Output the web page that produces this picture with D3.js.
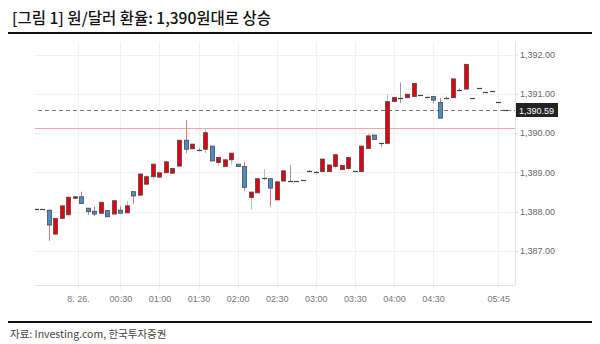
<!DOCTYPE html>
<html>
<head>
<meta charset="utf-8">
<script src="https://cdn.jsdelivr.net/npm/d3@7"></script>
<style>
  body { margin: 0; background: #fff; }
  svg { display: block; }
  .ylab text { font: 9px "Liberation Sans", Arial, sans-serif; fill: #666; }
  .xlab text { font: 9px "Liberation Sans", Arial, sans-serif; fill: #777; }
</style>
</head>
<body>
<svg width="600" height="344"></svg>
<script>
// 5-minute candles
const opens  = [1388.07,1388.06,1388.04,1387.43,1387.83,1387.92,1388.34,1388.38,1388.09,1388.01,
                1387.96,1388.03,1387.94,1388.04,1387.97,1388.51,1388.42,1388.70,1388.89,1388.88,
                1388.99,1388.98,1389.16,1389.82,1389.60,1389.58,1389.59,1389.67,1389.25,1389.15,
                1389.32,1389.21,1389.15,1388.36,1388.48,1388.83,1388.84,1388.30,1388.78,1388.78,
                1388.79,1388.81,1389.04,1389.01,1389.02,1389.02,1389.15,1389.07,1389.10,1389.04,
                1389.02,1389.61,1389.95,1389.74,1389.74,1390.80,1390.89,1390.90,1390.93,1390.96,
                1390.95,1390.93,1390.78,1390.89,1390.90,1391.10,1391.12,1390.90,1391.14,1391.04,
                1391.07,1390.78,1390.59];
const closes = [1388.07,1388.06,1387.66,1387.83,1388.15,1388.37,1388.38,1388.21,1388.00,1387.94,
                1388.24,1387.87,1388.28,1387.96,1388.15,1388.40,1388.96,1388.89,1389.21,1388.99,
                1389.27,1389.10,1389.82,1389.59,1389.72,1389.58,1390.01,1389.29,1389.38,1389.32,
                1389.49,1389.15,1388.62,1388.50,1388.84,1388.85,1388.60,1388.76,1389.04,1388.78,
                1388.79,1388.81,1389.04,1389.01,1389.34,1389.19,1389.45,1389.18,1389.38,1389.04,
                1389.67,1389.93,1389.84,1389.74,1390.80,1390.91,1390.89,1390.99,1391.26,1390.96,
                1390.93,1390.84,1390.38,1390.89,1391.38,1391.10,1391.75,1390.90,1391.14,1391.04,
                1391.07,1390.78,1390.59];
const highs  = [1388.08,1388.07,1388.04,1387.83,1388.15,1388.37,1388.38,1388.51,1388.09,1388.13,
                1388.24,1388.03,1388.28,1388.14,1388.28,1388.51,1388.96,1388.93,1389.21,1389.02,
                1389.27,1389.10,1389.82,1390.33,1389.72,1389.62,1390.12,1389.67,1389.38,1389.35,
                1389.49,1389.21,1389.27,1388.50,1388.84,1389.08,1388.84,1388.76,1389.04,1389.19,
                1388.79,1388.81,1389.06,1389.03,1389.34,1389.19,1389.45,1389.18,1389.38,1389.04,
                1389.67,1390.00,1389.95,1389.74,1390.99,1390.91,1391.29,1390.99,1391.26,1390.96,
                1390.95,1390.93,1390.89,1390.93,1391.38,1391.14,1391.75,1390.90,1391.14,1391.04,
                1391.07,1390.78,1390.59];
const lows   = [1388.06,1388.05,1387.26,1387.43,1387.83,1387.92,1388.34,1388.21,1387.92,1387.89,
                1387.96,1387.87,1387.94,1387.96,1387.97,1388.20,1388.42,1388.70,1388.82,1388.88,
                1388.99,1388.98,1389.16,1389.49,1389.60,1389.54,1389.49,1389.29,1389.17,1389.15,
                1389.20,1389.15,1388.53,1388.06,1388.48,1388.80,1388.13,1388.30,1388.78,1388.78,
                1388.79,1388.81,1389.02,1388.99,1389.02,1389.02,1389.10,1389.07,1389.05,1389.04,
                1389.02,1389.61,1389.84,1389.65,1389.74,1390.80,1390.76,1390.90,1390.93,1390.96,
                1390.93,1390.76,1390.38,1390.86,1390.90,1391.06,1391.12,1390.90,1391.14,1391.04,
                1391.07,1390.78,1390.59];

const yTicks = [1387, 1388, 1389, 1390, 1391, 1392];
// tick positions are candle indices (chart skips the quiet hours before 05:45)
const xTickPos    = [6.5, 13, 19, 25, 31, 37, 43, 49, 55, 61, 71];
const xTickLabels = ["8. 26.", "00:30", "01:00", "01:30", "02:00", "02:30", "03:00", "03:30", "04:00", "04:30", "05:45"];

const lastPrice = 1390.59;
const refLine = 1390.13;

const title = "[그림 1] 원/달러 환율: 1,390원대로 상승";
const source = "자료: Investing.com, 한국투자증권";

const candles = opens.map((o, i) => ({i, o, c: closes[i], h: highs[i], l: lows[i]}));

const plot = {left: 35, right: 515, top: 42, bottom: 285};

const x = d3.scaleLinear().domain([0, candles.length - 1]).range([35.7, 504.7]);
const y = d3.scaleLinear().domain([1387, 1392]).range([251, 54.5]);

const svg = d3.select("svg");

// title + rules
svg.append("text")
   .attr("x", 12).attr("y", 24)
   .style("font", "500 15.5px 'Noto Sans CJK KR', sans-serif")
   .attr("fill", "#111")
   .text(title);

svg.append("line").attr("x1", 8).attr("x2", 592).attr("y1", 33).attr("y2", 33)
   .attr("stroke", "#111").attr("stroke-width", 2);
svg.append("line").attr("x1", 8).attr("x2", 592).attr("y1", 322).attr("y2", 322)
   .attr("stroke", "#111").attr("stroke-width", 2);

svg.append("text")
   .attr("x", 10).attr("y", 338)
   .style("font", "10.5px 'Noto Sans CJK KR', sans-serif")
   .attr("fill", "#444")
   .text(source);

// grid
svg.append("g")
   .selectAll("line")
   .data(yTicks)
   .join("line")
     .attr("x1", plot.left).attr("x2", plot.right)
     .attr("y1", d => Math.round(y(d)) + 0.5).attr("y2", d => Math.round(y(d)) + 0.5)
     .attr("stroke", "#f1f1f1");

svg.append("g")
   .selectAll("line")
   .data(xTickPos)
   .join("line")
     .attr("x1", d => Math.round(x(d)) + 0.5).attr("x2", d => Math.round(x(d)) + 0.5)
     .attr("y1", plot.top).attr("y2", plot.bottom + 5)
     .attr("stroke", "#f1f1f1");

// frame: bottom + right
svg.append("line").attr("x1", plot.left).attr("x2", plot.right)
   .attr("y1", plot.bottom + 0.5).attr("y2", plot.bottom + 0.5).attr("stroke", "#e4e4e4");
svg.append("line").attr("x1", plot.right + 0.5).attr("x2", plot.right + 0.5)
   .attr("y1", plot.top).attr("y2", plot.bottom).attr("stroke", "#e4e4e4");

// axes
const yAxis = svg.append("g")
   .attr("class", "ylab")
   .attr("transform", `translate(${plot.right},0)`)
   .call(d3.axisRight(y).tickValues(yTicks).tickSize(3).tickPadding(2)
           .tickFormat(d3.format(",.2f")));
yAxis.select(".domain").remove();
yAxis.selectAll(".tick line").attr("stroke", "#ddd");

const xAxis = svg.append("g")
   .attr("class", "xlab")
   .attr("transform", `translate(0,${plot.bottom + 6})`)
   .call(d3.axisBottom(x).tickValues(xTickPos).tickSize(0).tickPadding(5)
           .tickFormat((d, i) => xTickLabels[i]));
xAxis.select(".domain").remove();

// reference lines
svg.append("line")
   .attr("x1", plot.left).attr("x2", plot.right)
   .attr("y1", Math.round(y(refLine)) + 0.5).attr("y2", Math.round(y(refLine)) + 0.5)
   .attr("stroke", "#f6a5a5");

svg.append("line")
   .attr("x1", plot.left + 3).attr("x2", plot.right)
   .attr("y1", Math.round(y(lastPrice)) + 0.5).attr("y2", Math.round(y(lastPrice)) + 0.5)
   .attr("stroke", "#777").attr("stroke-dasharray", "4,3");

// candles
svg.append("clipPath").attr("id", "clip")
   .append("rect").attr("x", plot.left).attr("y", plot.top)
   .attr("width", plot.right - plot.left).attr("height", plot.bottom - plot.top);

const g = svg.append("g").attr("clip-path", "url(#clip)");
const bw = 4;

const candle = g.selectAll("g")
   .data(candles)
   .join("g")
     .attr("transform", d => `translate(${Math.round(x(d.i)) + 0.5},0)`);

candle.append("line")
   .attr("y1", d => y(d.h)).attr("y2", d => y(d.l))
   .attr("stroke", d => d.c > d.o ? "#9fd49f" : d.c < d.o ? "#e07878" : "#999");

candle.filter(d => Math.abs(y(d.o) - y(d.c)) >= 1.5)
   .append("rect")
     .attr("x", -bw / 2)
     .attr("y", d => y(Math.max(d.o, d.c)))
     .attr("width", bw)
     .attr("height", d => Math.abs(y(d.o) - y(d.c)))
     .attr("fill", d => d.c > d.o ? "#e3000f" : "#4d8cc4")
     .attr("stroke", "#4a4a4a")
     .attr("stroke-width", 0.8);

candle.filter(d => Math.abs(y(d.o) - y(d.c)) < 1.5)
   .append("line")
     .attr("x1", -bw / 2 - 0.5).attr("x2", bw / 2 + 0.5)
     .attr("y1", d => Math.round(y(d.c)) + 0.5).attr("y2", d => Math.round(y(d.c)) + 0.5)
     .attr("stroke", "#444").attr("stroke-width", 1.2);

// last price tag
const tag = svg.append("g")
   .attr("transform", `translate(${plot.right},${Math.round(y(lastPrice))})`);
tag.append("rect")
   .attr("x", 1).attr("y", -7).attr("width", 42).attr("height", 14)
   .attr("fill", "#222");
tag.append("text")
   .attr("x", 4).attr("y", 3.5)
   .style("font", "9px 'Liberation Sans', Arial, sans-serif")
   .attr("fill", "#fff")
   .text(d3.format(",.2f")(lastPrice));
</script>
</body>
</html>
